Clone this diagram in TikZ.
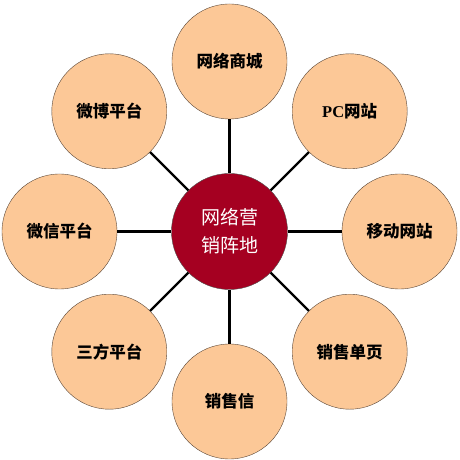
\documentclass[tikz,border=0pt]{standalone}
\usepackage{fontspec}
\setmainfont{Liberation Serif}
\newfontfamily\cjk{Noto Sans CJK SC}
\usepackage{xcolor}
\definecolor{peach}{RGB}{252, 200, 151}
\definecolor{peachline}{RGB}{90, 70, 55}
\definecolor{hubred}{RGB}{165, 0, 33}
\usetikzlibrary{positioning,calc}

\begin{document}
\begin{tikzpicture}[
    x=1pt, y=1pt,
    hub/.style={
        circle,
        minimum size=116pt,
        inner sep=0pt,
        fill=hubred,
        draw=black!70,
        text=white,
        align=center,
        font=\cjk\fontsize{19}{28}\selectfont
    },
    channel/.style={
        circle,
        minimum size=115pt,
        inner sep=0pt,
        fill=peach,
        draw=peachline,
        align=center,
        font=\cjk\bfseries\fontsize{16.5}{20}\selectfont
    },
    link/.style={line width=2.2pt, black}
]
    \useasboundingbox[fill=white] (0,0) rectangle (460,460);

    % Center
    \node[hub] (hub) at (229.5,228.5) {网络营\\销阵地};

    % Channels
    \foreach \ang/\name/\txt in {
        90/shop/网络商城,
        45/pc/\textrm{PC}网站,
        0/mobile/移动网站,
        -45/page/销售单页,
        -90/letter/销售信,
        -135/third/三方平台,
        180/wechat/微信平台,
        135/weibo/微博平台} {
        \node[channel] (\name) at ($(hub)+(\ang:170)$) {\txt};
        \draw[link] (hub) -- (\name);
    }
\end{tikzpicture}
\end{document}
